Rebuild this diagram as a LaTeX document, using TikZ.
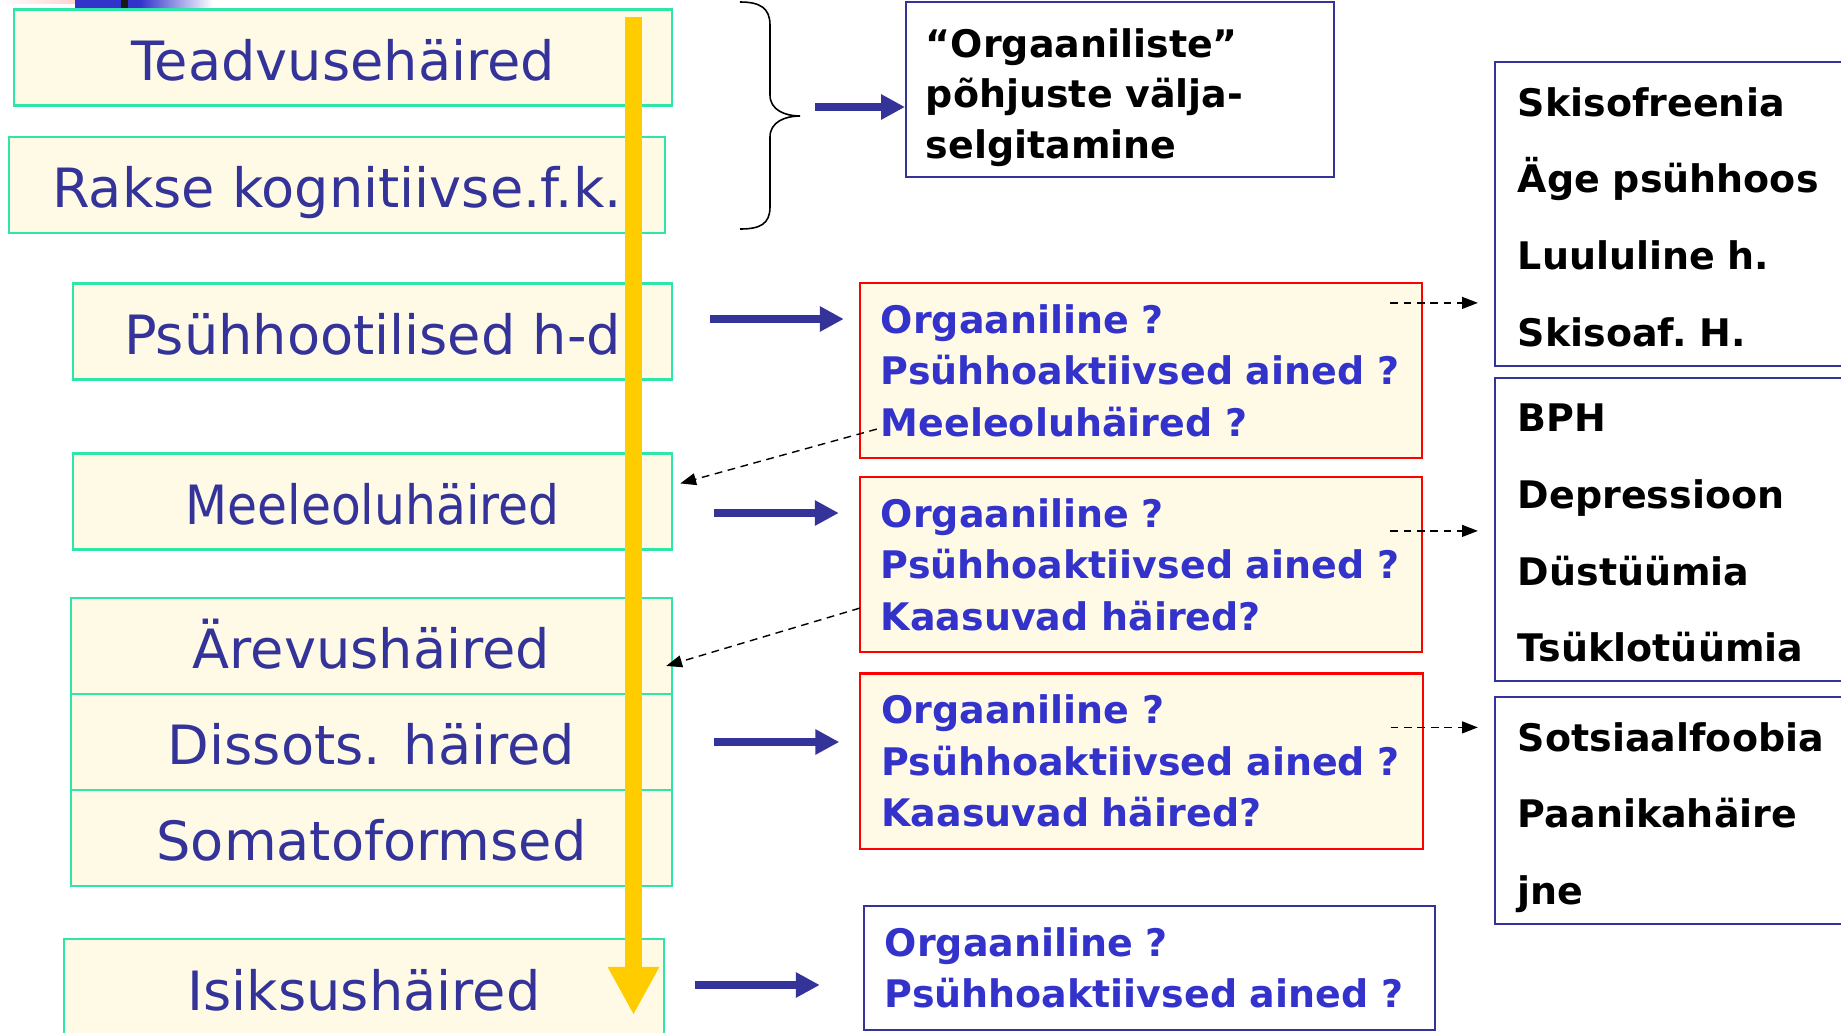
\documentclass[tikz,border=0pt]{standalone}
\usepackage{fontspec}
\setmainfont{DejaVu Sans}
\usetikzlibrary{calc}
\usetikzlibrary{arrows.meta}
\definecolor{slideblue}{HTML}{333399}
\definecolor{askblue}{HTML}{3333CC}
\definecolor{paper}{HTML}{FEFAE6}
\definecolor{mint}{HTML}{2EE6A8}
\definecolor{flowyellow}{HTML}{FFCC00}
\tikzset{
	groupstyle/.style={rectangle,draw=mint,line width=0.6pt,fill=paper,text=slideblue,minimum height=0.96cm,inner sep=0pt,font=\fontsize{15.4}{18}\selectfont,text height=12.8pt,text depth=0pt},
	askstyle/.style={rectangle,draw=red,line width=0.6pt,fill=paper,text=askblue,align=left,text width=5.2cm,inner xsep=0.21cm,inner ysep=0pt,minimum height=1.75cm,font=\bfseries\fontsize{10.8}{14.6}\selectfont},
	answerstyle/.style={rectangle,draw=slideblue,line width=0.6pt,text=black,align=left,text width=3.19cm,inner xsep=0.23cm,inner ysep=0pt,minimum height=3.04cm,font=\bfseries\fontsize{10.8}{21.8}\selectfont},
	bigarrow/.style={slideblue,line width=2.4pt,-{Triangle[length=6.8pt,width=6.8pt]}},
	hintarrow/.style={black,line width=0.4pt,dash pattern=on 2.2pt off 1.6pt,-{Triangle[length=4.5pt,width=3.4pt]}}
}

\begin{document}
\begin{tikzpicture}[x=0.01cm,y=-0.01cm]
	\useasboundingbox (0,0) rectangle (1841,1033);
	\fill[white] (0,0) rectangle (1841,1033);
	\clip (0,0) rectangle (1841,1033);
	% corner of the slide template
	\shade[left color=white,right color=red!25] (0,0) rectangle (106,3);
	\fill[askblue] (75,0) rectangle (140,8);
	\fill[black!90] (121,0) rectangle (128,8);
	\shade[left color=askblue,right color=white] (140,0) rectangle (213,8);
	% left column
	\node[groupstyle,minimum width=6.58cm] (tead) at (343,57.5) {Teadvusehäired};
	\node[groupstyle,minimum width=6.56cm] (rakse) at (337,185) {Rakse kognitiivse.f.k.};
	\node[groupstyle,minimum width=5.99cm] (psyh) at (372.5,331.5) {Psühhootilised h-d};
	\node[groupstyle,minimum width=5.99cm] (meele) at (372.5,501.5) {\scalebox{0.9}[1]{Meeleoluhäired}};
	\node[groupstyle,minimum width=6.01cm] (arev) at (371.5,646) {Ärevushäired};
	\node[groupstyle,minimum width=6.01cm] (diss) at (371.5,742) {Dissots. häired};
	\node[groupstyle,minimum width=6.01cm] (soma) at (371.5,838) {Somatoformsed};
	\node[groupstyle,minimum width=6.00cm,minimum height=0.97cm] (isik) at (364,987.5) {Isiksushäired};
	% yellow arrow
	\coordinate (flowtop) at (633.5,17);
	\coordinate (flowend) at (633.5,1015);
	\draw[flowyellow,line width=4.6pt,-{Triangle[length=13.7pt,width=13.7pt]}] (flowtop) -- (flowend);
	% brace
	\coordinate (bracetip) at (800,116);
	\draw[line width=0.45pt] (740,2) .. controls (760,2) and (770,8) .. (770,25) -- (770,95)
		.. controls (770,110) and (785,116) .. (bracetip)
		.. controls (785,116) and (770,122) .. (770,137) -- (770,207)
		.. controls (770,224) and (760,229) .. (740,229);
	% middle column
	\node[answerstyle,text width=3.88cm,inner xsep=0.2cm,minimum height=1.75cm,font=\bfseries\fontsize{10.8}{14.4}\selectfont] (orgaan) at (1120,89.5) {\rule{0pt}{12.8pt}“Orgaaniliste”\\põhjuste välja-\\selgitamine};
	\node[askstyle] (q1) at (1141,370.5) {Orgaaniline ?\\Psühhoaktiivsed~ained~?\\Meeleoluhäired ?};
	\node[askstyle] (q2) at (1141,564.5) {Orgaaniline ?\\Psühhoaktiivsed~ained~?\\Kaasuvad häired?};
	\node[askstyle] (q3) at (1141.5,761) {Orgaaniline ?\\Psühhoaktiivsed~ained~?\\Kaasuvad häired?};
	\node[askstyle,draw=slideblue,fill=none,text width=5.29cm,minimum height=1.24cm] (q4) at (1149.5,968) {Orgaaniline ?\\Psühhoaktiivsed~ained~?};
	% right column
	\node[answerstyle] (r1) at (1677.5,214) {\rule{0pt}{10pt}Skisofreenia\\Äge psühhoos\\Luululine h.\\Skisoaf.\ H.};
	\node[answerstyle,minimum height=3.03cm] (r2) at (1677.5,529.5) {\rule{0pt}{10pt}BPH\\Depressioon\\Düstüümia\\Tsüklotüümia};
	\node[answerstyle,minimum height=2.27cm] (r3) at (1677.5,810.5) {\rule{0pt}{10pt}Sotsiaalfoobia\\Paanikahäire\\\smash{j}ne};
	% arrows
	\draw[bigarrow] ($(bracetip)+(15,-9)$) -- ($(bracetip)+(105,-9)$);
	\draw[bigarrow] ($(psyh.east)+(37,-12.5)$) -- ($(q1.west |- psyh.east)+(-15,-12.5)$);
	\draw[bigarrow] ($(meele.east)+(41,11.5)$) -- ($(q2.west |- meele.east)+(-20,11.5)$);
	\draw[bigarrow] ($(diss.east)+(41,0)$) -- ($(q3.west |- diss.east)+(-20,0)$);
	\draw[bigarrow] ($(isik.east)+(30,-2.5)$) -- ($(q4.west |- isik.east)+(-43,-2.5)$);
	\draw[hintarrow] ($(q1.north east)+(-33,21)$) -- ($(r1.west |- q1.north)+(-16,21)$);
	\draw[hintarrow] ($(q2.north east)+(-33,55)$) -- ($(r2.west |- q2.north)+(-16,55)$);
	\draw[hintarrow] ($(q3.north east)+(-33,55)$) -- ($(r3.west |- q3.north)+(-16,55)$);
	\draw[hintarrow] ($(q1.south west)+(18,-30)$) -- ($(meele.north east)+(7,31)$);
	\draw[hintarrow] ($(q2.south west)+(1,-45)$) -- ($(arev.north east)+(-7,69)$);
\end{tikzpicture}
\end{document}
